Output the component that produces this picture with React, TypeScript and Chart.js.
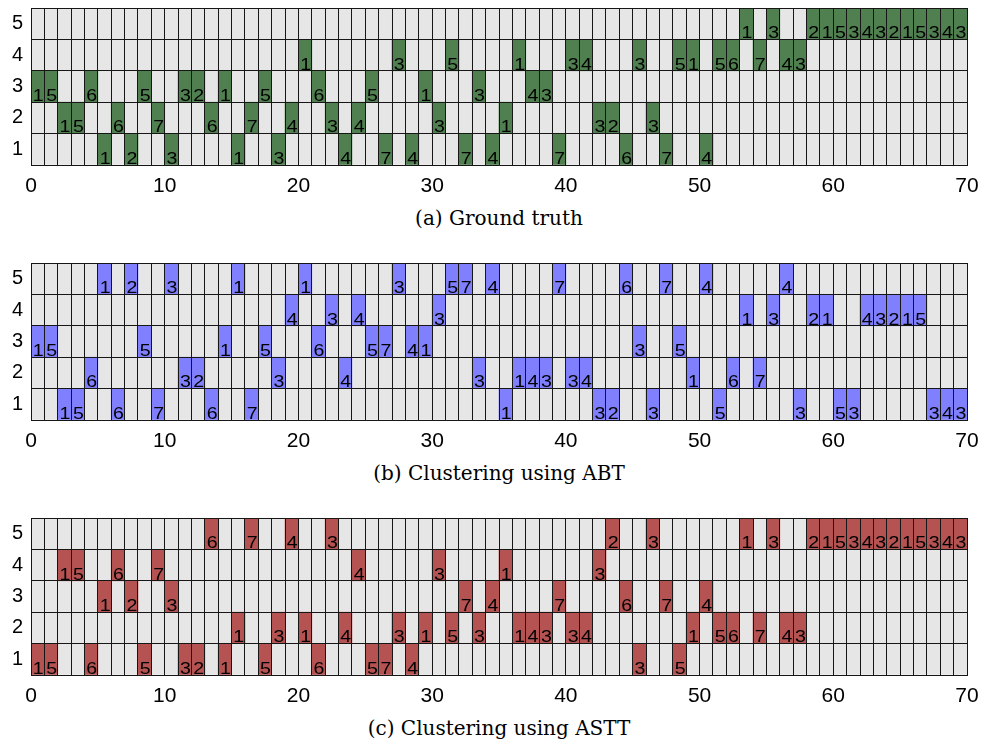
import React, { useEffect, useRef } from 'react';
import { Chart, registerables } from 'chart.js';

Chart.register(...registerables);

// Label written in each column's highlighted cell (shared by all three panels)
const cellLabels = [
  '1', '5', '1', '5', '6', '1', '6', '2', '5', '7',
  '3', '3', '2', '6', '1', '1', '7', '5', '3', '4',
  '1', '6', '3', '4', '4', '5', '7', '3', '4', '1',
  '3', '5', '7', '3', '4', '1', '1', '4', '3', '7',
  '3', '4', '3', '2', '6', '3', '3', '7', '5', '1',
  '4', '5', '6', '1', '7', '3', '4', '3', '2', '1',
  '5', '3', '4', '3', '2', '1', '5', '3', '4', '3',
];

// Row (1..5) of the highlighted cell in each column
const groundTruthRows = [
  3, 3, 2, 2, 3, 1, 2, 1, 3, 2,
  1, 3, 3, 2, 3, 1, 2, 3, 1, 2,
  4, 3, 2, 1, 2, 3, 1, 4, 1, 3,
  2, 4, 1, 3, 1, 2, 4, 3, 3, 1,
  4, 4, 2, 2, 1, 4, 2, 1, 4, 4,
  1, 4, 4, 5, 4, 5, 4, 4, 5, 5,
  5, 5, 5, 5, 5, 5, 5, 5, 5, 5,
];

const abtRows = [
  3, 3, 1, 1, 2, 5, 1, 5, 3, 1,
  5, 2, 2, 1, 3, 5, 1, 3, 2, 4,
  5, 3, 4, 2, 4, 3, 3, 5, 3, 3,
  4, 5, 5, 2, 5, 1, 2, 2, 2, 5,
  2, 2, 1, 1, 5, 3, 1, 5, 3, 2,
  5, 1, 2, 4, 2, 4, 5, 1, 4, 4,
  1, 1, 4, 4, 4, 4, 4, 1, 1, 1,
];

const asttRows = [
  1, 1, 4, 4, 1, 3, 4, 3, 1, 4,
  3, 1, 1, 5, 1, 2, 5, 1, 2, 5,
  2, 1, 5, 2, 4, 1, 1, 2, 1, 2,
  4, 2, 3, 2, 3, 4, 2, 2, 2, 3,
  2, 2, 4, 5, 3, 1, 5, 3, 1, 2,
  3, 2, 2, 5, 2, 5, 2, 2, 5, 5,
  5, 5, 5, 5, 5, 5, 5, 5, 5, 5,
];

const rowNames = ['1', '2', '3', '4', '5'];
const xTickLabels = [0, 10, 20, 30, 40, 50, 60, 70];

const captions = ['(a) Ground truth', '(b) Clustering using ABT', '(c) Clustering using ASTT'];
const panelColors = ['#508050', '#8080ff', '#b55252'];
const panelRows = [groundTruthRows, abtRows, asttRows];

const LINE = '#161616';
const CELL_BG = '#e6e6e6';
const PANEL_STEP = 255;
const CANVAS_H = 200;
const SANS = '"Liberation Sans", Arial, Helvetica, sans-serif';

function Panel({ rows, color, top, caption }: { rows: number[]; color: string; top: number; caption: string }) {
  const ref = useRef<HTMLCanvasElement>(null);

  useEffect(() => {
    const nCols = cellLabels.length;
    const nRows = rowNames.length;

    const labelPlugin = {
      id: 'cellLabels',
      afterDatasetsDraw(chart: any) {
        const { ctx, scales } = chart;
        const xs = scales.x;
        const ys = scales.y;
        const sx = 1.15;
        ctx.save();
        ctx.font = '17px ' + SANS;
        ctx.fillStyle = '#000';
        ctx.textAlign = 'left';
        ctx.textBaseline = 'alphabetic';
        cellLabels.forEach((lab, i) => {
          const px = xs.getPixelForValue(i) + 1.8;
          const py = ys.getPixelForValue(rows[i] - 1) - 1.2;
          ctx.save();
          ctx.translate(px, py);
          ctx.scale(sx, 1);
          ctx.fillText(lab, 0, 0);
          ctx.restore();
        });
        ctx.restore();
      },
    };

    const chart = new Chart(ref.current as HTMLCanvasElement, {
      type: 'bar',
      data: {
        datasets: [
          {
            label: 'assigned',
            data: rows.map((r, i) => ({ x: i + 0.5, y: [r - 1, r] })) as any,
            backgroundColor: color,
            borderWidth: 0,
            grouped: false,
            barPercentage: 1,
            categoryPercentage: 1,
            order: 0,
          },
          {
            label: 'cells',
            data: cellLabels.map((_, i) => ({ x: i + 0.5, y: [0, nRows] })) as any,
            backgroundColor: CELL_BG,
            borderWidth: 0,
            grouped: false,
            barPercentage: 1,
            categoryPercentage: 1,
            order: 1,
          },
        ],
      },
      options: {
        responsive: false,
        animation: false,
        events: [],
        layout: { padding: { top: 8, right: 18, left: 0, bottom: 0 } },
        plugins: { legend: { display: false }, tooltip: { enabled: false } },
        scales: {
          x: {
            type: 'linear',
            min: 0,
            max: nCols,
            offset: false,
            afterBuildTicks: (s: any) => {
              s.ticks = Array.from({ length: nCols + 1 }, (_, k) => ({ value: k }));
            },
            afterFit: (s: any) => {
              s.height = 35;
              s.paddingLeft = 0;
              s.paddingRight = 0;
            },
            ticks: {
              autoSkip: false,
              maxRotation: 0,
              minRotation: 0,
              padding: 9,
              color: '#000',
              font: { family: SANS, size: 21 },
              callback: (v: any) => (xTickLabels.includes(Number(v)) ? String(v) : ''),
            },
            grid: { color: LINE, lineWidth: 1, drawTicks: false, z: 1, offset: false },
            border: { color: LINE, width: 1, z: 1 },
          },
          y: {
            type: 'linear',
            min: 0,
            max: nRows,
            afterBuildTicks: (s: any) => {
              s.ticks = Array.from({ length: 2 * nRows + 1 }, (_, k) => ({ value: k / 2 }));
            },
            afterFit: (s: any) => {
              s.width = 31;
              s.paddingTop = 0;
              s.paddingBottom = 0;
            },
            ticks: {
              autoSkip: false,
              padding: 8,
              color: '#000',
              font: { family: SANS, size: 20 },
              callback: (v: any) => {
                const n = Number(v);
                return n % 1 === 0.5 ? rowNames[n - 0.5] : '';
              },
            },
            grid: {
              color: (c: any) => (c.tick && c.tick.value % 1 === 0 ? LINE : 'rgba(0,0,0,0)'),
              lineWidth: 1,
              drawTicks: false,
              z: 1,
            },
            border: { color: LINE, width: 1, z: 1 },
          },
        },
      } as any,
      plugins: [labelPlugin],
    });
    return () => chart.destroy();
  }, [rows, color]);

  return (
    <>
      <canvas
        ref={ref}
        width={985}
        height={CANVAS_H}
        style={{ position: 'absolute', left: 0, top, display: 'block', width: 985, height: CANVAS_H }}
      />
      <div
        style={{
          position: 'absolute',
          left: 31,
          width: 936,
          top: top + 206,
          textAlign: 'center',
          fontFamily: '"DejaVu Serif", serif',
          fontSize: 20,
          lineHeight: '24px',
          color: '#000',
        }}
      >
        {caption}
      </div>
    </>
  );
}

export default function App() {
  return (
    <div style={{ position: 'absolute', left: 0, top: 0, width: 985, height: 747, background: '#fff', overflow: 'hidden' }}>
      {panelRows.map((rows, k) => (
        <Panel key={k} rows={rows} color={panelColors[k]} top={k * PANEL_STEP} caption={captions[k]} />
      ))}
    </div>
  );
}
